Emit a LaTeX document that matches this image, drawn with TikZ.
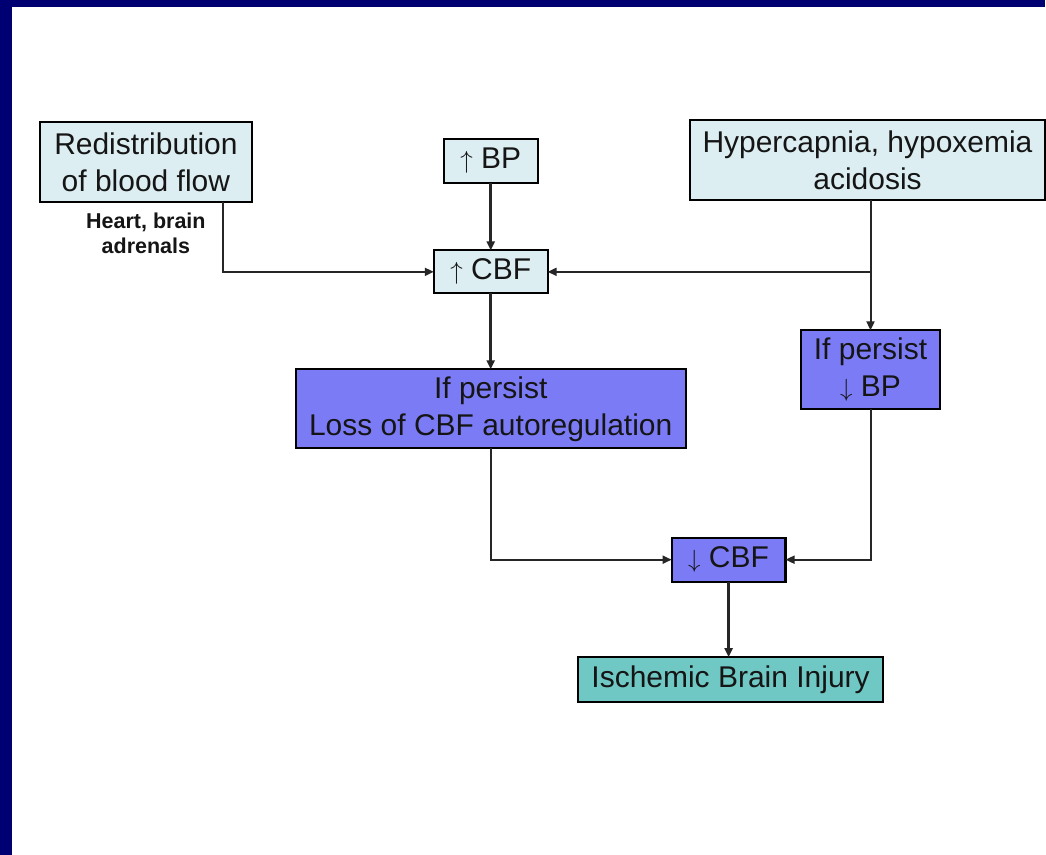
\documentclass[tikz,border=0pt]{standalone}
\usepackage{fontspec}
\setmainfont{Liberation Sans}
\usetikzlibrary{arrows.meta, positioning, calc}
\definecolor{Frame}    {HTML}{000072}
\definecolor{TxtMain}  {HTML}{151515}
\definecolor{PaleBlue} {HTML}{DCEEF2}
\definecolor{Violet}   {HTML}{7B7BF6}
\definecolor{Teal}     {HTML}{6FC8C4}
\newcommand{\up}{$\uparrow$}
\newcommand{\dn}{$\downarrow$}

\begin{document}
\begin{tikzpicture}[
  x=1pt, y=-1pt,
  every node/.style={font=\fontsize{30}{37}\selectfont, text=TxtMain},
  mbox/.style={draw=black, line width=2.2pt, align=center,
               inner sep=0pt, outer sep=0pt},
  lbox/.style={mbox, fill=PaleBlue},
  pbox/.style={mbox, fill=Violet},
  tbox/.style={mbox, fill=Teal},
  arr/.style={-{Triangle[length=9pt, width=8pt]}, line width=2pt, draw=black!85},
  tarr/.style={arr, line width=2.8pt},
]
  % frame
  \fill[Frame] (0,0) rectangle (1046,855);
  \fill[white] (12,7) rectangle (1046,855);

  % top row
  \node[lbox, minimum width=212pt, minimum height=80pt] (redist) at (146,162)
    {Redistribution\\of blood flow};
  \node[font=\fontsize{21.5}{25}\selectfont\bfseries, align=center,
        below=8pt of redist] (organs) {Heart, brain\\adrenals};
  \node[lbox, minimum width=94pt, minimum height=44pt] (upbp) at (491,161)
    {\up\ BP};
  \node[lbox, minimum width=355pt, minimum height=80pt] (hyper) at (868,160)
    {Hypercapnia, hypoxemia\\acidosis};

  % middle
  \node[lbox, minimum width=114pt, minimum height=43pt] (upcbf) at (491,272)
    {\up\ CBF};
  \node[pbox, minimum width=139pt, minimum height=79pt] (persbp) at (871,370)
    {If persist\\\dn\ BP};
  \node[pbox, minimum width=390pt, minimum height=79pt] (loss) at (491,409)
    {If persist\\Loss of CBF autoregulation};

  % bottom
  \node[pbox, minimum width=114pt, minimum height=44pt] (dncbf) at (729,560)
    {\dn\ CBF};
  \node[tbox, minimum width=305pt, minimum height=45pt] (injury) at (731,680)
    {Ischemic Brain Injury};

  % connectors
  \coordinate (split) at (persbp.north |- upcbf.east);
  \draw[arr] ([xshift=77pt]redist.south) |- (upcbf.west);
  \draw[tarr] (upbp) -- (upcbf);
  \draw[arr] (hyper.south -| persbp.north) -- (persbp.north);
  \draw[arr] (split) -- (upcbf.east);
  \draw[tarr] (upcbf) -- (loss);
  \draw[arr] (loss.south) |- (dncbf.west);
  \draw[arr] (persbp.south) |- (dncbf.east);
  \draw[tarr] (dncbf.south) -- (dncbf.south |- injury.north);
\end{tikzpicture}
\end{document}
